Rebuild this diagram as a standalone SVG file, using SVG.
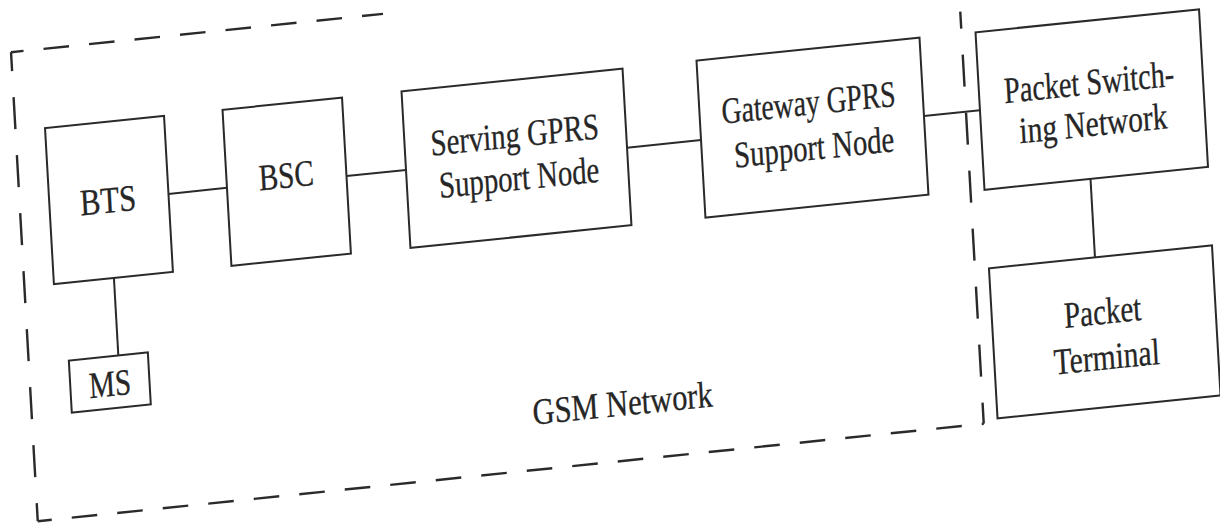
<svg xmlns="http://www.w3.org/2000/svg" width="1220" height="523" viewBox="0 0 1220 523">
<style>
.box{fill:none;stroke:#2a2a2a;stroke-width:2}
.conn{stroke:#2a2a2a;stroke-width:2;fill:none}
.dh{stroke:#2a2a2a;stroke-width:2.4;fill:none;stroke-dasharray:25.5 20}
.dv{stroke:#2a2a2a;stroke-width:2.4;fill:none;stroke-dasharray:32 26}
.lbl{font-family:"Liberation Serif","Times New Roman",serif;font-size:37px;fill:#262626;stroke:#262626;stroke-width:0.3;text-anchor:middle}
</style>
<rect width="1220" height="523" fill="#ffffff"/>
<g transform="matrix(1,-0.103,0.057,1,0,0)">
  <g id="gsm-boundary">
    <line class="dh" x1="8" y1="53" x2="380" y2="53" stroke-dashoffset="13"/>
    <line class="dv" x1="8" y1="53" x2="8" y2="522" stroke-dashoffset="13"/>
    <line class="dh" x1="8" y1="522" x2="954" y2="522" stroke-dashoffset="11.5"/>
    <line class="dv" x1="954" y1="522" x2="954" y2="110" stroke-dashoffset="11"/>
    <text class="lbl" x="596" y="477" textLength="180" lengthAdjust="spacingAndGlyphs">GSM Network</text>
  </g>
  <g id="connectors">
    <line class="conn" x1="156.5" y1="210" x2="215" y2="210"/>
    <line class="conn" x1="334.5" y1="210.5" x2="394" y2="210.5"/>
    <line class="conn" x1="615" y1="211" x2="689" y2="211"/>
    <line class="conn" x1="912" y1="210" x2="968" y2="210"/>
    <line class="conn" x1="97.5" y1="288" x2="97.5" y2="365.5"/>
    <line class="conn" x1="1074" y1="289.5" x2="1074" y2="368"/>
  </g>
  <g id="bts">
    <rect class="box" x="37.5" y="132" width="119" height="156"/>
    <text class="lbl" x="96" y="222.5" textLength="56" lengthAdjust="spacingAndGlyphs">BTS</text>
  </g>
  <g id="bsc">
    <rect class="box" x="215" y="132" width="119.5" height="156"/>
    <text class="lbl" x="274.6" y="216" textLength="55" lengthAdjust="spacingAndGlyphs">BSC</text>
  </g>
  <g id="sgsn">
    <rect class="box" x="394" y="132" width="221" height="156.5"/>
    <text class="lbl" x="504" y="199" textLength="168" lengthAdjust="spacingAndGlyphs">Serving GPRS</text>
    <text class="lbl" x="506" y="242" textLength="160" lengthAdjust="spacingAndGlyphs">Support Node</text>
  </g>
  <g id="ggsn">
    <rect class="box" x="689" y="131.5" width="223" height="157"/>
    <text class="lbl" x="798" y="197" textLength="174" lengthAdjust="spacingAndGlyphs">Gateway GPRS</text>
    <text class="lbl" x="801" y="242" textLength="160" lengthAdjust="spacingAndGlyphs">Support Node</text>
  </g>
  <g id="psn">
    <rect class="box" x="968" y="132" width="223.5" height="157.5"/>
    <text class="lbl" x="1078" y="205.5" textLength="170" lengthAdjust="spacingAndGlyphs">Packet Switch-</text>
    <text class="lbl" x="1080" y="247" textLength="148" lengthAdjust="spacingAndGlyphs">ing Network</text>
  </g>
  <g id="pt">
    <rect class="box" x="968" y="368" width="223" height="150"/>
    <text class="lbl" x="1078.5" y="435" textLength="77" lengthAdjust="spacingAndGlyphs">Packet</text>
    <text class="lbl" x="1080" y="480.5" textLength="106" lengthAdjust="spacingAndGlyphs">Terminal</text>
  </g>
  <g id="ms">
    <rect class="box" x="48" y="365.5" width="79" height="52"/>
    <text class="lbl" x="87.6" y="405" textLength="42" lengthAdjust="spacingAndGlyphs">MS</text>
  </g>
</g>
</svg>
